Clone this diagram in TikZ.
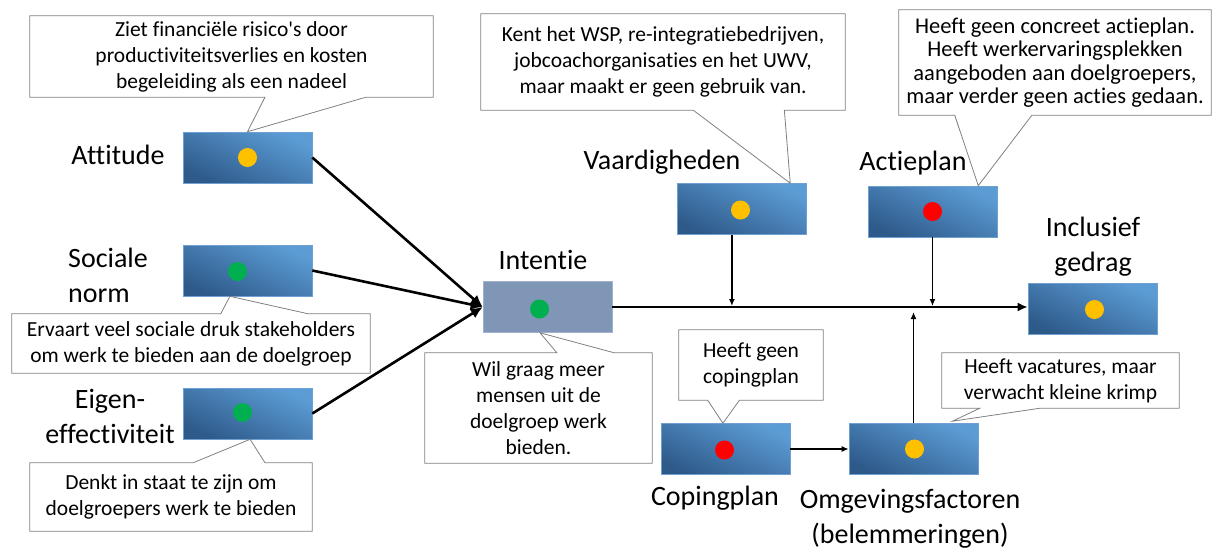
\documentclass[tikz,border=0pt]{standalone}
\usepackage{fontspec}
\setmainfont{Carlito}[Ligatures=NoCommon]
\usepackage{tikz}
\usetikzlibrary{arrows.meta,calc,positioning}

\definecolor{boxdark}{RGB}{46,90,138}
\definecolor{boxlight}{RGB}{92,156,213}
\definecolor{boxedge}{RGB}{110,160,210}
\definecolor{intfill}{RGB}{128,150,182}
\definecolor{intedge}{RGB}{160,178,205}
\definecolor{dotyellow}{RGB}{255,192,0}
\definecolor{dotgreen}{RGB}{0,176,80}
\definecolor{dotred}{RGB}{255,0,0}
\definecolor{notegray}{RGB}{128,128,128}

\tikzset{
  boxsize/.style={minimum width=129pt, minimum height=51pt, inner sep=0pt},
  block/.style={boxsize, draw=boxedge, line width=0.6pt, top color=boxlight, bottom color=boxdark, shading angle=-25},
  intblock/.style={boxsize, draw=intedge, line width=0.6pt, fill=intfill},
  dot/.style={circle, fill=#1, inner sep=0pt, minimum size=19pt},
  lbl/.style={font=\fontsize{28}{35}\selectfont, align=center, inner sep=0pt},
  note/.style={font=\fontsize{21.5}{26}\selectfont, align=center, inner sep=0pt},
  notebox/.style={draw=notegray, line width=0.8pt},
  flow/.style={line width=2.6pt, -{Latex[length=12pt,width=11pt]}},
  feed/.style={line width=1.4pt, -{Latex[length=7pt,width=6pt]}},
}

\begin{document}
\begin{tikzpicture}[x=1pt,y=-1pt]
\useasboundingbox (0,0) rectangle (1212,550);

% determinanten
\node[block] (att) at (247.5,157.5) {};
\node[block] (soc) at (247.5,270.5) {};
\node[block] (eig) at (247.5,413.5) {};
\node[intblock] (int) at (547.5,307) {};
\node[block] (vaar) at (741.5,209) {};
\node[block] (actie) at (932.5,211.5) {};
\node[block] (incl) at (1092.5,308.5) {};
\node[block] (coping) at (725.5,449) {};
\node[block] (omg) at (913.5,449) {};

\node[dot=dotyellow] (attdot) at ($(att.center)+(0,0)$) {};
\node[dot=dotgreen] (socdot) at ($(soc.center)+(-10,1)$) {};
\node[dot=dotgreen] (eigdot) at ($(eig.center)+(-5,-1)$) {};
\node[dot=dotgreen] (intdot) at ($(int.center)+(-8,2)$) {};
\node[dot=dotyellow] (vaardot) at ($(vaar.center)+(-1,1)$) {};
\node[dot=dotred] (actiedot) at ($(actie.center)+(0,0)$) {};
\node[dot=dotyellow] (incldot) at ($(incl.center)+(2,1)$) {};
\node[dot=dotred] (copingdot) at ($(coping.center)+(-1,1)$) {};
\node[dot=dotyellow] (omgdot) at ($(omg.center)+(1,0)$) {};

% namen
\node[lbl] (attlbl) at (118,155) {Attitude};
\node[lbl, align=left, anchor=west] (soclbl) at (68,275) {Sociale\\norm};
\node[lbl] (eiglbl) at (110,416) {Eigen-\\effectiviteit};
\node[lbl] (intlbl) at (543,260) {Intentie};
\node[lbl] (vaarlbl) at (662,162) {Vaardigheden};
\node[lbl] (actielbl) at (913,163) {Actieplan};
\node[lbl] (incllbl) at (1093,247) {Inclusief\\gedrag};
\node[lbl] (copinglbl) at (715,498) {Copingplan};
\node[lbl] (omglbl) at (910,519) {Omgevingsfactoren\\(belemmeringen)};

% pijlen
\draw[flow] (att.east) -- (int.west);
\draw[flow] (soc.east) -- (int.west);
\draw[flow] (eig.east) -- (int.west);
\draw[line width=2.4pt, -{Latex[length=10pt,width=9pt]}] (int.east) -- (int.east -| incl.west);
\coordinate (vaarfoot) at ($(vaar.south west)!0.426!(vaar.south east)$);
\draw[feed] (vaarfoot) -- ($(vaarfoot |- int.east)+(0,-1)$);
\draw[feed] (actie.south) -- ($(actie.south |- int.east)+(0,-1)$);
\draw[feed] (omg.north) -- ($(omg.north |- int.east)+(0,5)$);
\draw[feed] (coping.east) -- (omg.west);

% toelichtingen
\node[note, minimum width=403pt, minimum height=81pt] (attnote) at (231.5,56.5)
  {Ziet financiële risico\textquotesingle s door\\productiviteitsverlies en kosten\\begeleiding als een nadeel};
\draw[notebox] (attnote.north west) -- (attnote.north east) -- (attnote.south east)
  -- ($(attnote.south west)!0.833!(attnote.south east)$) -- (att.north)
  -- ($(attnote.south west)!0.583!(attnote.south east)$) -- (attnote.south west) -- cycle;

\node[note, minimum width=364pt, minimum height=96pt] (vaarnote) at (663,62)
  {Kent het WSP, re-integratiebedrijven,\\jobcoachorganisaties en het UWV,\\maar maakt er geen gebruik van.};
\draw[notebox] (vaarnote.north west) -- (vaarnote.north east) -- (vaarnote.south east)
  -- ($(vaarnote.south west)!0.833!(vaarnote.south east)$) -- ($(vaar.north west)!0.876!(vaar.north east)$)
  -- ($(vaarnote.south west)!0.583!(vaarnote.south east)$) -- (vaarnote.south west) -- cycle;

\node[note, font=\fontsize{22.5}{23.5}\selectfont, minimum width=312pt, minimum height=105pt] (actienote) at (1055,62.5)
  {Heeft geen concreet actieplan.\\Heeft werkervaringsplekken\\aangeboden aan doelgroepers,\\maar verder geen acties gedaan.};
\draw[notebox] (actienote.north west) -- (actienote.north east) -- (actienote.south east)
  -- ($(actienote.south west)!0.426!(actienote.south east)$) -- ($(actie.north west)!0.853!(actie.north east)$)
  -- ($(actienote.south west)!0.179!(actienote.south east)$) -- (actienote.south west) -- cycle;

\node[note, minimum width=358pt, minimum height=59pt] (socnote) at (191,343.5)
  {Ervaart veel sociale druk stakeholders\\om werk te bieden aan de doelgroep};
\draw[notebox] (socnote.north west) -- ($(socnote.north west)!0.583!(socnote.north east)$)
  -- ($(soc.south west)!0.364!(soc.south east)$) -- ($(socnote.north west)!0.827!(socnote.north east)$)
  -- (socnote.north east) -- (socnote.south east) -- (socnote.south west) -- cycle;

\node[note, minimum width=282pt, minimum height=68pt] (eignote) at (171,497)
  {Denkt in staat te zijn om\\doelgroepers werk te bieden};
\draw[notebox] (eignote.north west) -- ($(eignote.north west)!0.578!(eignote.north east)$)
  -- ($(eig.south west)!0.52!(eig.south east)$) -- ($(eignote.north west)!0.833!(eignote.north east)$)
  -- (eignote.north east) -- (eignote.south east) -- (eignote.south west) -- cycle;

\node[note, minimum width=227pt, minimum height=110pt] (intnote) at (538.5,408)
  {Wil graag meer\\mensen uit de\\doelgroep werk\\bieden.};
\draw[notebox] (intnote.north west) -- ($(intnote.north west)!0.581!(intnote.north east)$)
  -- ($(int.south west)!0.442!(int.south east)$) -- ($(intnote.north west)!0.833!(intnote.north east)$)
  -- (intnote.north east) -- (intnote.south east) -- (intnote.south west) -- cycle;

\node[note, minimum width=144pt, minimum height=70pt] (copingnote) at (751,365)
  {Heeft geen\\copingplan};
\draw[notebox] (copingnote.north west) -- (copingnote.north east) -- (copingnote.south east)
  -- ($(copingnote.south west)!0.42!(copingnote.south east)$) -- ($(coping.north west)!0.48!(coping.north east)$)
  -- ($(copingnote.south west)!0.2!(copingnote.south east)$) -- (copingnote.south west) -- cycle;

\node[note, minimum width=237pt, minimum height=55pt] (omgnote) at (1060.5,380.5)
  {Heeft vacatures, maar\\verwacht kleine krimp};
\draw[notebox] (omgnote.north west) -- (omgnote.north east) -- (omgnote.south east)
  -- ($(omgnote.south west)!0.414!(omgnote.south east)$) -- ($(omg.north west)!0.80!(omg.north east)+(0,-2)$)
  -- ($(omgnote.south west)!0.16!(omgnote.south east)$) -- (omgnote.south west) -- cycle;
\end{tikzpicture}
\end{document}
